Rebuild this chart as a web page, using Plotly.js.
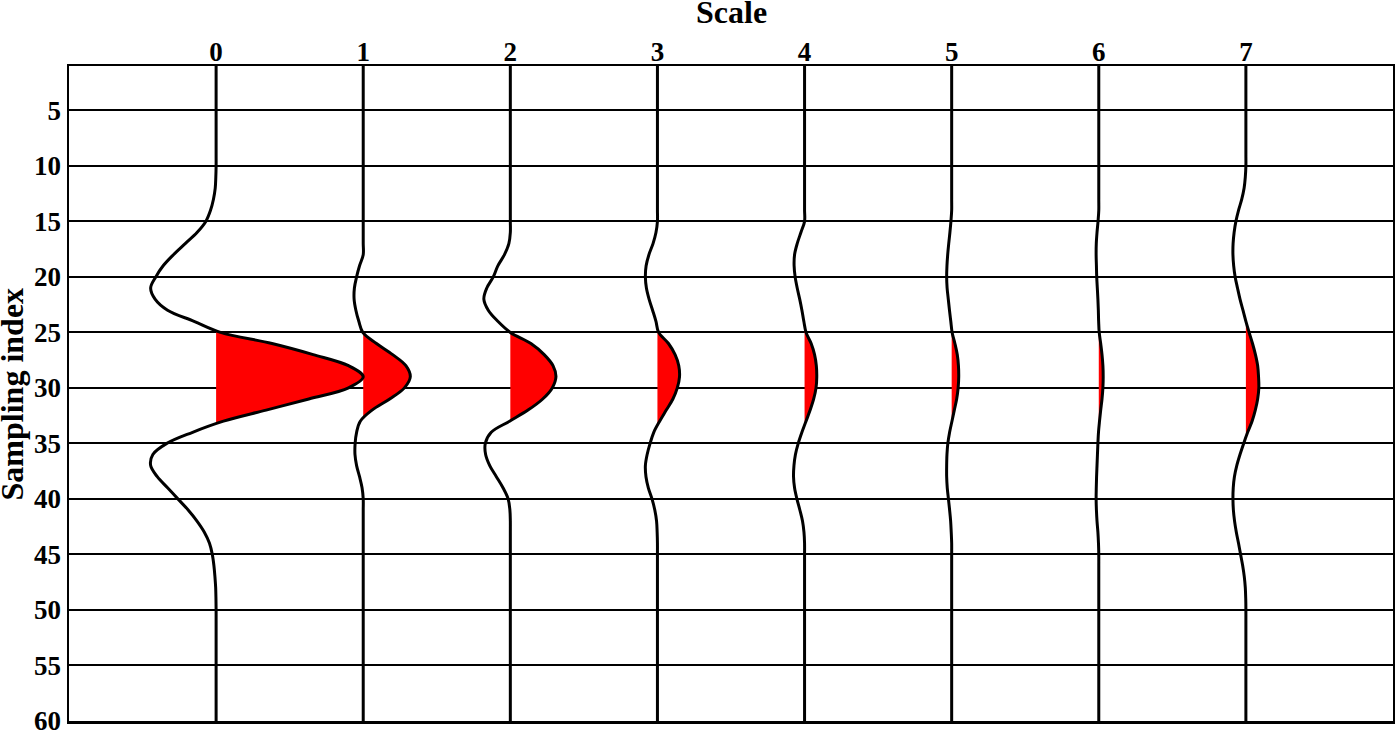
<!DOCTYPE html>
<html>
<head>
<meta charset="utf-8">
<script src="https://cdn.plot.ly/plotly-3.0.1.min.js"></script>
<style>
  html, body { margin: 0; padding: 0; background: #fff; }
  #myDiv { width: 1395px; height: 733px; }
</style>
</head>
<body>
<div id="myDiv"></div>
<script>
// sampling index 1..60
var samples = [];
for (var i = 1; i <= 60; i++) samples.push(i);

var scales = [0, 1, 2, 3, 4, 5, 6, 7];
var scaleLabels = ['0', '1', '2', '3', '4', '5', '6', '7'];
var indexTicks = [5, 10, 15, 20, 25, 30, 35, 40, 45, 50, 55, 60];

// trace amplitudes (in scale units), index 1..60
var scale0 = [0,0,0,0,0,0,0,0,0,0,
  -0.002,-0.006,-0.018,-0.038,-0.07,-0.13,-0.21,-0.29,-0.36,-0.41,
  -0.445,-0.415,-0.33,-0.15,0.03,0.38,0.66,0.90,1.0,0.90,
  0.63,0.34,0.05,-0.16,-0.335,-0.43,-0.445,-0.40,-0.33,-0.26,
  -0.19,-0.13,-0.08,-0.045,-0.026,-0.015,-0.008,-0.003,-0.001,0,
  0,0,0,0,0,0,0,0,0,0];
var scale1 = [0,0,0,0,0,0,0,0,0,0,
  0,0,0,0,0,0,0,0,-0.025,-0.045,
  -0.06,-0.062,-0.05,-0.03,-0.003,0.09,0.20,0.29,0.32,0.28,
  0.18,0.06,-0.02,-0.045,-0.055,-0.056,-0.045,-0.025,-0.008,0,
  0,0,0,0,0,0,0,0,0,0,
  0,0,0,0,0,0,0,0,0,0];
var scale2 = [0,0,0,0,0,0,0,0,0,0,
  0,0,0,0,0,0,-0.01,-0.04,-0.085,-0.116,
  -0.16,-0.18,-0.15,-0.085,0.0,0.14,0.23,0.29,0.31,0.285,
  0.22,0.12,-0.005,-0.13,-0.17,-0.168,-0.14,-0.095,-0.05,-0.015,
  -0.003,0,0,0,0,0,0,0,0,0,
  0,0,0,0,0,0,0,0,0,0];
var scale3 = [0,0,0,0,0,0,0,0,0,0,
  0,0,0,0,0,-0.01,-0.03,-0.058,-0.077,-0.082,
  -0.075,-0.057,-0.033,-0.01,0.008,0.075,0.12,0.145,0.15,0.135,
  0.105,0.06,0.015,-0.025,-0.05,-0.07,-0.082,-0.078,-0.062,-0.037,
  -0.018,-0.006,-0.002,0,0,0,0,0,0,0,
  0,0,0,0,0,0,0,0,0,0];
var scale4 = [0,0,0,0,0,0,0,0,0,0,
  0,0,0,0,0,-0.025,-0.05,-0.068,-0.071,-0.064,
  -0.05,-0.033,-0.018,-0.005,0.01,0.045,0.068,0.08,0.083,0.078,
  0.062,0.038,0.01,-0.018,-0.043,-0.062,-0.072,-0.075,-0.068,-0.052,
  -0.032,-0.014,-0.004,0,0,0,0,0,0,0,
  0,0,0,0,0,0,0,0,0,0];
var scale5 = [0,0,0,0,0,0,0,0,0,0,
  0,0,0,0,-0.005,-0.012,-0.02,-0.027,-0.032,-0.034,
  -0.031,-0.023,-0.015,-0.006,0.003,0.022,0.038,0.046,0.048,0.044,
  0.034,0.018,0.002,-0.014,-0.026,-0.032,-0.034,-0.034,-0.03,-0.022,
  -0.014,-0.007,-0.003,0,0,0,0,0,0,0,
  0,0,0,0,0,0,0,0,0,0];
var scale6 = [0,0,0,0,0,0,0,0,0,0,
  0,0,0,0,-0.005,-0.012,-0.017,-0.018,-0.016,-0.014,
  -0.01,-0.006,-0.003,-0.001,0.003,0.013,0.022,0.028,0.03,0.028,
  0.022,0.013,0.005,-0.002,-0.006,-0.009,-0.012,-0.015,-0.017,-0.018,
  -0.016,-0.012,-0.006,-0.002,0,0,0,0,0,0,
  0,0,0,0,0,0,0,0,0,0];
var scale7 = [0,0,0,0,0,0,0,0,0,0,
  -0.004,-0.012,-0.028,-0.05,-0.068,-0.08,-0.087,-0.088,-0.083,-0.073,
  -0.057,-0.04,-0.02,0.0,0.022,0.045,0.065,0.08,0.086,0.088,
  0.08,0.064,0.042,0.012,-0.015,-0.04,-0.062,-0.078,-0.086,-0.088,
  -0.085,-0.077,-0.065,-0.05,-0.036,-0.022,-0.011,-0.004,-0.001,0,
  0,0,0,0,0,0,0,0,0,0];

var amplitudes = [scale0, scale1, scale2, scale3, scale4, scale5, scale6, scale7];

// where the wiggle crosses its baseline between two samples
function crossing(j0, j1, amp) {
    return samples[j0] + (0 - amp[j0]) / (amp[j1] - amp[j0]) * (samples[j1] - samples[j0]);
}

var fills = [];
var lines = [];
for (var k = 0; k < scales.length; k++) {
    var base = scales[k];
    var amp = amplitudes[k];
    var xWig = [];
    for (var j = 0; j < samples.length; j++) xWig.push(base + amp[j]);

    // one red polygon per positive lobe
    var j = 0;
    while (j < samples.length) {
        if (amp[j] > 0) {
            var fx = [], fy = [];
            if (j > 0) { fx.push(base); fy.push(crossing(j - 1, j, amp)); }
            while (j < samples.length && amp[j] > 0) {
                fx.push(base + amp[j]); fy.push(samples[j]);
                j++;
            }
            if (j < samples.length) { fx.push(base); fy.push(crossing(j - 1, j, amp)); }
            fills.push({
                x: fx, y: fy, mode: 'lines',
                line: {width: 0, color: 'rgba(0,0,0,0)', shape: 'spline'},
                fill: 'toself', fillcolor: 'rgb(255,0,0)',
                hoverinfo: 'skip', showlegend: false
            });
        } else {
            j++;
        }
    }

    lines.push({
        x: xWig, y: samples, mode: 'lines',
        line: {width: 3, color: 'black', shape: 'spline'},
        showlegend: false
    });
}

var data = fills.concat(lines);

var tickFont = {family: 'Liberation Serif, Times New Roman, serif', size: 27, color: 'black', weight: 'bold'};
var titleFont = {family: 'Liberation Serif, Times New Roman, serif', size: 32, color: 'black', weight: 'bold'};

var layout = {
    width: 1395,
    height: 733,
    margin: {l: 69, r: 2, t: 66, b: 12},
    paper_bgcolor: 'white',
    plot_bgcolor: 'white',
    showlegend: false,
    xaxis: {
        side: 'top',
        range: [-1, 8],
        tickvals: scales,
        ticktext: scaleLabels,
        ticks: '',
        ticklabelstandoff: -8,
        showgrid: false,
        zeroline: false,
        showline: true,
        linecolor: 'black',
        linewidth: 2.5,
        mirror: true,
        tickfont: tickFont
    },
    yaxis: {
        range: [60.01, 1],
        tickvals: indexTicks,
        ticks: 'inside',
        ticklen: 12,
        tickwidth: 2,
        tickcolor: 'black',
        ticklabeloverflow: 'allow',
        showgrid: true,
        gridcolor: 'black',
        gridwidth: 2,
        zeroline: false,
        showline: true,
        linecolor: 'black',
        linewidth: 2.5,
        mirror: 'ticks',
        tickfont: tickFont
    },
    // axis titles placed by hand, the reference puts them closer to the edges
    annotations: [
        {text: 'Scale', xref: 'paper', yref: 'paper', x: 0.5, y: 1.0824,
         xanchor: 'center', yanchor: 'middle', showarrow: false, font: titleFont},
        {text: 'Sampling index', xref: 'paper', yref: 'paper', x: -0.0431, y: 0.5,
         xanchor: 'center', yanchor: 'middle', textangle: -90, showarrow: false, font: titleFont}
    ]
};

Plotly.newPlot('myDiv', data, layout, {displayModeBar: false, staticPlot: true});
</script>
</body>
</html>
